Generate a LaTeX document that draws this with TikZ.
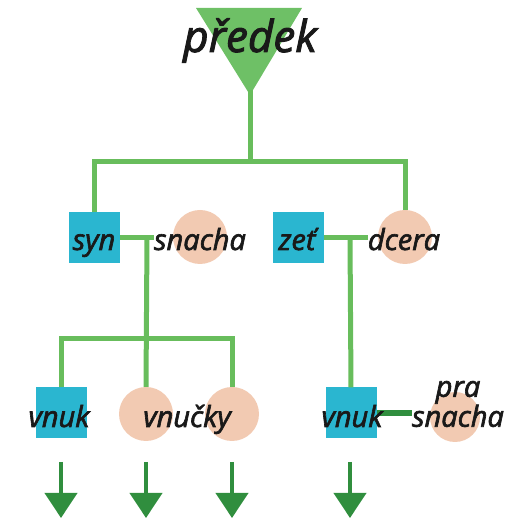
\documentclass[tikz,border=0pt]{standalone}
\usepackage{fontspec}
\setmainfont{Open Sans}[ItalicFeatures={FakeBold=2.2}]
\usetikzlibrary{arrows.meta}
\definecolor{lg}{RGB}{104,189,92}
\definecolor{tg}{RGB}{110,192,102}
\definecolor{dg}{RGB}{48,142,62}
\definecolor{cy}{RGB}{42,182,208}
\definecolor{pe}{RGB}{242,202,178}
\pgfdeclarelayer{bg}
\pgfdeclarelayer{fg}
\pgfsetlayers{bg,main,fg}
\begin{document}
\begin{tikzpicture}[x=1pt,y=-1pt,
  conn/.style={draw=lg,line width=5pt},
  sq/.style={fill=cy,minimum size=51pt,inner sep=0pt},
  circ/.style={circle,fill=pe,minimum size=54pt,inner sep=0pt},
  lbl/.style={font=\fontsize{29}{25}\selectfont\itshape,text=black!90,inner sep=0pt,anchor=base},
  arr/.style={draw=dg,line width=4pt,-{Triangle[width=32pt,length=25pt]}}]
\useasboundingbox (0,0) rectangle (523,521);
\begin{pgfonlayer}{bg}
% ancestor triangle
\fill[tg] (196,8) -- (302,8) -- (250,95) -- cycle;
% shapes
\node[sq] (syn) at (94,238) {};
\node[circ] (snacha) at (200,237) {};
\node[sq] (zet) at (298,238) {};
\node[circ] (dcera) at (405,237) {};
\node[sq] (vnukA) at (61,413) {};
\node[circ] (vnuckyA) at (146,414) {};
\node[circ] (vnuckyB) at (232,414) {};
\node[sq] (vnukB) at (351,413) {};
\node[circ,minimum size=50pt] (pras) at (455,417) {};
\end{pgfonlayer}
\coordinate (apex) at (250,90);
\coordinate (top) at (250,162);
% labels
\begin{pgfonlayer}{fg}
\node[lbl,font=\fontsize{44}{46}\selectfont\itshape] (predekT) at (250,52) {předek};
\node[lbl] (synT) at (94,250) {syn};
\node[lbl] (snachaT) at (200,250) {snacha};
\node[lbl] (zetT) at (297,250) {zeť};
\node[lbl] (dceraT) at (404,250) {dcera};
\node[lbl] (vnukAT) at (59,427) {vnuk};
\node[lbl] (vnuckyT) at (187,427) {vnučky};
\node[lbl] (vnukBT) at (352,427) {vnuk};
\node[lbl,anchor=center,align=center] (prasT) at (458,404) {pra\\snacha};
\end{pgfonlayer}
% connectors
\coordinate (j1) at (147,237);
\coordinate (j2) at (147,339);
\coordinate (j3) at (350,237);
\draw[conn] (apex) -- (top);
\draw[conn] (syn.north) |- (top) -| (dcera.north);
\draw[conn] (syn.east) -- (snachaT.west |- syn.east);
\draw[conn] (zet.east) -- (dceraT.west |- zet.east);
\draw[conn] (j1) -- (vnuckyA.north);
\draw[conn] (vnukA.north) |- (j2) -| (vnuckyB.north);
\draw[conn] (j3) -- (vnukB.north);
\draw[draw=dg,line width=6pt] (vnukB.east) -- (prasT.west |- vnukB.east);
% arrows
\foreach \n/\x in {a/61,b/146,c/232,d/350}{
  \coordinate (\n s) at (\x,462);
  \coordinate (\n e) at (\x,518);
  \draw[arr] (\n s) -- (\n e);
}
\end{tikzpicture}
\end{document}
